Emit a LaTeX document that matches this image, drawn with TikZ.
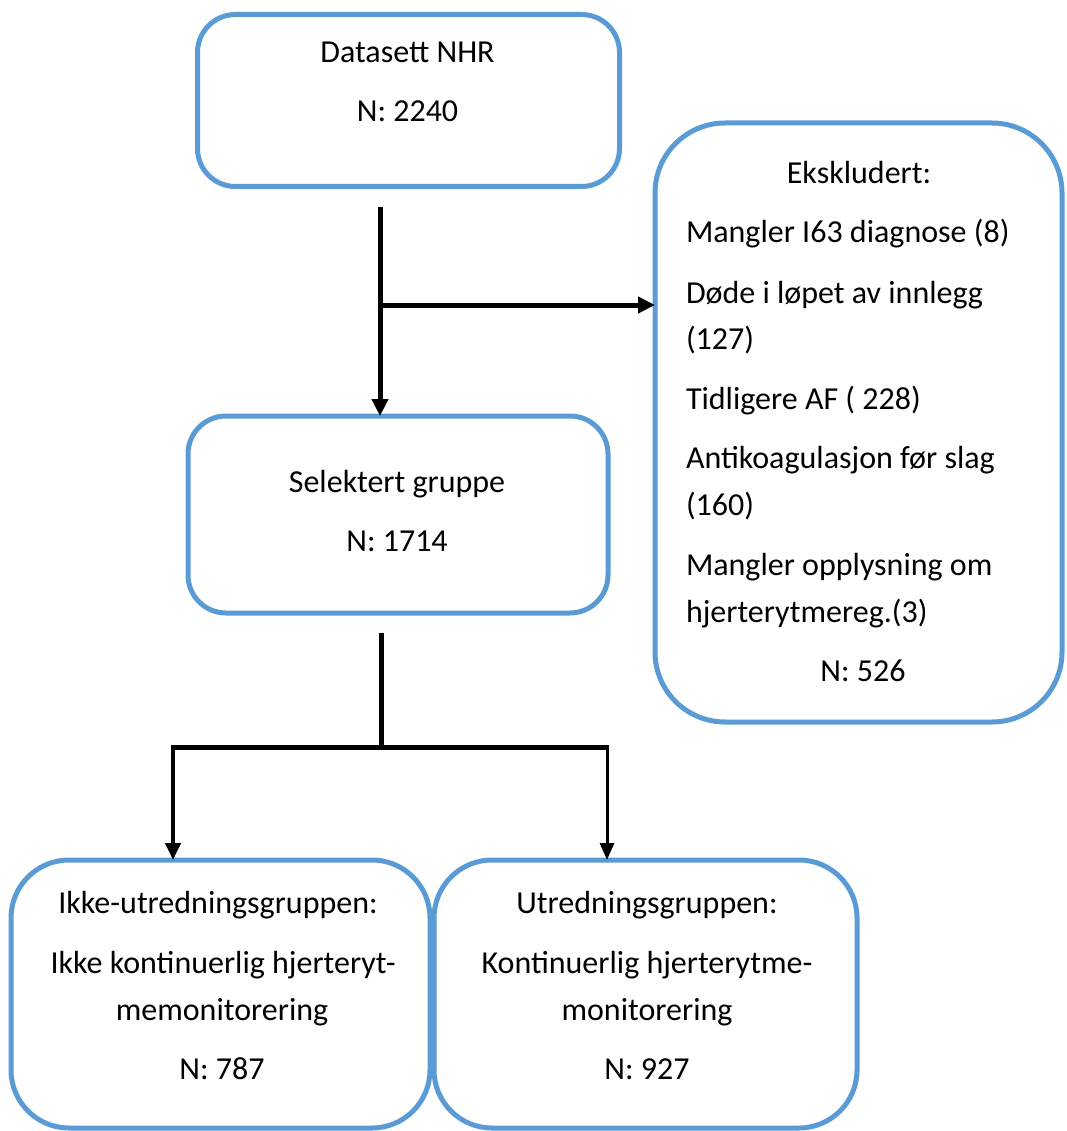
\documentclass[tikz,border=0pt]{standalone}
\usepackage{fontspec}
\setmainfont{Carlito}
\usetikzlibrary{arrows.meta}
\definecolor{boxblue}{RGB}{91,155,213}
\tikzset{
  box/.style={draw=boxblue, line width=5pt, inner sep=0pt, outer sep=0pt, rectangle, fill=white},
  txt/.style={font=\fontsize{32}{38}\selectfont, anchor=base, inner sep=0pt, outer sep=0pt},
  txtl/.style={txt, anchor=base west},
  arrthick/.style={line width=5pt, -{Triangle[length=17pt,width=16pt]}},
  arrmid/.style={line width=4pt, -{Triangle[length=17pt,width=15pt]}},
  arrthin/.style={line width=3pt, -{Triangle[length=17pt,width=14pt]}},
  plainline/.style={line width=5pt},
}
\begin{document}
\begin{tikzpicture}[x=1pt,y=-1pt]
\useasboundingbox (0,0) rectangle (1066,1131);
\begin{scope}
\clip (0,0) rectangle (1066,1131);
% boxes
\node[box, rounded corners=38pt, minimum width=422pt, minimum height=172pt] (top) at (408.5,100.5) {};
\node[box, rounded corners=70pt, minimum width=407pt, minimum height=599pt] (excl) at (858.5,422.5) {};
\node[box, rounded corners=38pt, minimum width=420pt, minimum height=197pt] (sel) at (398,514.5) {};
\node[box, rounded corners=58pt, minimum width=419pt, minimum height=268pt] (bl) at (220.5,994) {};
\node[box, rounded corners=58pt, minimum width=423pt, minimum height=268pt] (br) at (645.5,994) {};

% texts
\node[txt] (t1) at (407.5,63) {Datasett NHR};
\node[txt] (t2) at (407.5,122) {N: 2240};

\node[txt] (e0) at (859,184) {Ekskludert:};
\node[txtl] (e1) at (686,243) {Mangler I63 diagnose (8)};
\node[txtl] (e2) at (686,303) {Døde i løpet av innlegg};
\node[txtl] (e3) at (686,349) {(127)};
\node[txtl] (e4) at (686,409) {Tidligere AF ( 228)};
\node[txtl] (e5) at (686,468) {Antikoagulasjon før slag};
\node[txtl] (e6) at (686,515) {(160)};
\node[txtl] (e7) at (686,575) {Mangler opplysning om};
\node[txtl] (e8) at (686,622) {hjerterytmereg.(3)};
\node[txt] (e9) at (863,681) {N: 526};

\node[txt] (s1) at (397,492) {Selektert gruppe};
\node[txt] (s2) at (397,551) {N: 1714};

\node[txt] (l1) at (218,913) {Ikke-utredningsgruppen:};
\node[txt] (l2) at (223,973) {Ikke kontinuerlig hjerteryt-};
\node[txt] (l3) at (222,1020) {memonitorering};
\node[txt] (l4) at (222,1079) {N: 787};

\node[txt] (r1) at (647,913) {Utredningsgruppen:};
\node[txt] (r2) at (647,973) {Kontinuerlig hjerterytme-};
\node[txt] (r3) at (647,1020) {monitorering};
\node[txt] (r4) at (647,1079) {N: 927};

% connectors
\coordinate (a0) at (380,207);
\coordinate (b0) at (380,305);
\draw[arrthick] (a0) -- (a0 |- sel.north);
\draw[arrthick] (b0) -- (b0 -| excl.west);

\coordinate (c0) at (381,633);
\coordinate (c1) at (381,747);
\coordinate (cl) at (173,747);
\coordinate (cr) at (607,747);
\draw[plainline] (c0) -- (c1);
\draw[plainline] ([xshift=-2pt]cl) -- ([xshift=1.5pt]cr);
\draw[arrmid] (cl) -- (cl |- bl.north);
\draw[arrthin] (cr) -- (cr |- br.north);
\end{scope}
\end{tikzpicture}
\end{document}
